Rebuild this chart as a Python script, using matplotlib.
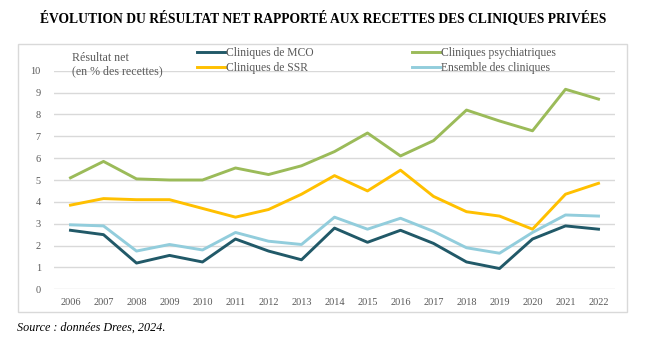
import matplotlib.pyplot as plt
from matplotlib.patches import Rectangle

# données (résultat net en % des recettes)
years = list(range(2006, 2023))
mco = [2.7, 2.5, 1.2, 1.55, 1.25, 2.3, 1.75, 1.35, 2.8, 2.15, 2.7, 2.1, 1.25, 0.95, 2.3, 2.9, 2.75]
psy = [5.1, 5.85, 5.05, 5.0, 5.0, 5.55, 5.25, 5.65, 6.3, 7.15, 6.1, 6.8, 8.2, 7.7, 7.25, 9.15, 8.7]
ssr = [3.85, 4.15, 4.1, 4.1, 3.7, 3.3, 3.65, 4.35, 5.2, 4.5, 5.45, 4.25, 3.55, 3.35, 2.75, 4.35, 4.85]
ens = [2.95, 2.9, 1.75, 2.05, 1.8, 2.6, 2.2, 2.05, 3.3, 2.75, 3.25, 2.65, 1.9, 1.65, 2.6, 3.4, 3.35]

plt.rcParams['font.family'] = ['Liberation Serif', 'DejaVu Serif']
grey = '#595959'

W, H = 653, 349
fig = plt.figure(figsize=(W / 100, H / 100), dpi=100)

# cadre du graphique
fig.patches.append(Rectangle((18 / W, 1 - 312 / H), 609 / W, 268 / H, transform=fig.transFigure,
                             fill=False, edgecolor='#D9D9D9', linewidth=1))

ax = fig.add_axes([54 / W, 59.7 / H, 561 / W, 218.6 / H])
l_psy, = ax.plot(years, psy, color='#9BBB59', lw=2.1, label='Cliniques psychiatriques')
l_ssr, = ax.plot(years, ssr, color='#FFC000', lw=2.1, label='Cliniques de SSR')
l_ens, = ax.plot(years, ens, color='#92CDDC', lw=2.1, label='Ensemble des cliniques')
l_mco, = ax.plot(years, mco, color='#215968', lw=2.1, label='Cliniques de MCO')

ax.set_xlim(2005.5, 2022.5)
ax.set_ylim(0, 10)
ax.set_yticks(range(0, 11))
ax.set_xticks(years)
ax.grid(axis='y', color='#D9D9D9', lw=1)
ax.set_axisbelow(True)
for s in ax.spines.values():
    s.set_visible(False)
ax.tick_params(length=0, colors=grey, labelsize=7.4)
ax.tick_params(axis='y', pad=9.5)
ax.tick_params(axis='x', pad=6.5)

fig.text(72 / W, 1 - 64.5 / H, 'Résultat net\n(en % des recettes)', color=grey, fontsize=8.6,
         va='center', ha='left', linespacing=1.1)

fig.legend(handles=[l_mco, l_ssr, l_psy, l_ens], ncol=2, frameon=False, fontsize=8.4,
           labelcolor=grey, loc='upper left', bbox_to_anchor=(191 / W, 1 - 41 / H),
           borderpad=0, handlelength=2.4, handletextpad=0.1, labelspacing=0.3,
           columnspacing=8.45)

fig.text(323 / W, 1 - 18 / H, 'ÉVOLUTION DU RÉSULTAT NET RAPPORTÉ AUX RECETTES DES CLINIQUES PRIVÉES',
         ha='center', va='center', fontsize=9.75, fontweight='bold')
fig.text(17 / W, 1 - 328 / H, 'Source : données Drees, 2024.', ha='left', va='center',
         fontsize=8.7, style='italic')

fig.savefig('out.png', dpi=100)
